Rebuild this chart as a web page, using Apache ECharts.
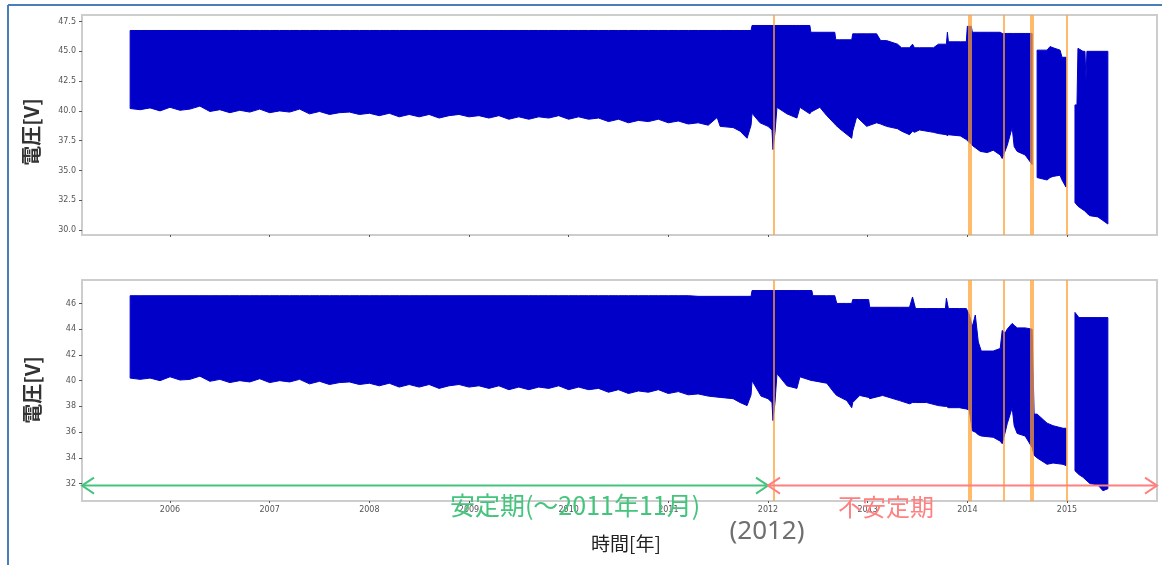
<!DOCTYPE html>
<html><head><meta charset="utf-8">
<script src="https://cdn.jsdelivr.net/npm/echarts@6/dist/echarts.min.js"></script>
<style>html,body{margin:0;padding:0;background:#fff}#c{width:1162px;height:565px}</style>
</head><body><div id="c"></div>
<script>
// ---------- DATA ----------
const yearTicks = [2006, 2007, 2008, 2009, 2010, 2011, 2012, 2013, 2014, 2015];
const topYTicks = [30, 32.5, 35, 37.5, 40, 42.5, 45, 47.5];
const botYTicks = [32, 34, 36, 38, 40, 42, 44, 46];
const eventYears = [2012.06, 2014.02, 2014.37, 2014.655, 2015.0];
const splitYear = 2012.0;

const topYears = [
  2005.6,2005.7,2005.8,2005.9,2006.0,2006.1,2006.2,2006.3,2006.4,2006.5,2006.6,2006.7,2006.8,2006.9,
  2007.0,2007.1,2007.2,2007.3,2007.4,2007.5,2007.6,2007.7,2007.8,2007.9,2008.0,2008.1,2008.2,2008.3,
  2008.4,2008.5,2008.6,2008.7,2008.8,2008.9,2009.0,2009.1,2009.2,2009.3,2009.4,2009.5,2009.6,2009.7,
  2009.8,2009.9,2010.0,2010.1,2010.2,2010.3,2010.4,2010.5,2010.6,2010.7,2010.8,2010.9,2011.0,2011.1,2011.2,
  2011.3,2011.4,2011.49,2011.52,2011.65,2011.72,2011.79,2011.83,2011.84,2011.92,2012.0,2012.04,2012.05,
  2012.07,2012.09,2012.19,2012.29,2012.32,2012.42,2012.43,2012.52,2012.59,2012.67,2012.68,2012.72,2012.84,
  2012.85,2012.89,2012.99,2013.09,2013.13,2013.19,2013.3,2013.34,2013.42,2013.45,2013.47,2013.52,2013.66,
  2013.71,2013.79,2013.8,2013.81,2013.93,2013.99,2014.0,2014.04,2014.05,2014.13,2014.2,2014.26,2014.33,
  2014.35,2014.4,2014.45,2014.47,2014.5,2014.58,2014.65,2014.67,2014.7,2014.8,2014.83,2014.86,2014.93,
  2014.95,2014.99,2015.03,2015.08,2015.1,2015.11,2015.16,2015.18,2015.19,2015.2,2015.23,2015.31,2015.36,2015.41
];
const topUpper = [
  46.75,46.75,46.75,46.75,46.75,46.75,46.75,46.75,46.75,46.75,46.75,46.75,46.75,46.75,
  46.75,46.75,46.75,46.75,46.75,46.75,46.75,46.75,46.75,46.75,46.75,46.75,46.75,46.75,
  46.75,46.75,46.75,46.75,46.75,46.75,46.75,46.75,46.75,46.75,46.75,46.75,46.75,46.75,
  46.75,46.75,46.75,46.75,46.75,46.75,46.75,46.75,46.75,46.75,46.75,46.75,46.75,46.75,46.75,
  46.75,46.75,46.75,46.75,46.75,46.75,46.75,46.75,47.17,47.17,47.17,47.17,47.17,
  47.17,47.17,47.17,47.17,47.17,47.17,46.6,46.6,46.6,46.6,45.97,45.97,45.97,
  46.47,46.47,46.47,46.47,45.9,45.9,45.6,45.3,45.3,45.6,45.3,45.3,45.3,
  45.6,45.6,46.6,45.8,45.8,45.8,47.1,47.1,46.6,46.6,46.6,46.6,46.6,
  46.5,46.5,46.5,46.5,46.5,46.5,46.5,null,45.1,45.1,45.4,45.3,45.1,
  44.5,44.5,null,40.5,40.5,45.25,45.0,45.0,42.6,45.0,45.0,45.0,45.0,45.0
];
const topLower = [
  40.2,40.1,40.25,40.0,40.3,40.05,40.15,40.4,39.95,40.1,39.85,40.05,39.9,40.15,
  39.85,40.0,39.9,40.15,39.75,39.95,39.7,39.85,39.9,39.7,39.8,39.6,39.8,39.5,
  39.7,39.5,39.7,39.4,39.6,39.7,39.5,39.6,39.4,39.6,39.3,39.5,39.3,39.5,
  39.4,39.6,39.3,39.5,39.3,39.4,39.1,39.3,39.0,39.2,39.1,39.3,39.0,39.15,38.9,
  39.0,38.8,39.45,38.7,38.6,38.3,37.7,38.8,39.8,39.0,38.7,38.4,36.75,
  38.2,40.3,39.75,39.4,40.3,39.75,39.9,40.3,39.6,38.9,38.8,38.5,37.7,
  38.3,39.5,38.7,39.0,38.9,38.7,38.5,38.3,38.0,38.3,38.2,38.4,38.2,
  38.1,38.0,37.9,38.0,37.9,37.6,37.5,37.2,37.1,36.6,36.5,36.7,36.3,
  36.0,37.1,38.6,37.0,36.6,36.3,35.5,null,34.4,34.2,34.4,34.5,34.6,
  34.2,33.6,null,32.3,32.1,32.0,31.7,31.6,31.5,31.4,31.2,31.1,30.8,30.5
];

const botYears = [
  2005.6,2005.7,2005.8,2005.9,2006.0,2006.1,2006.2,2006.3,2006.4,2006.5,2006.6,2006.7,2006.8,2006.9,
  2007.0,2007.1,2007.2,2007.3,2007.4,2007.5,2007.6,2007.7,2007.8,2007.9,2008.0,2008.1,2008.2,2008.3,
  2008.4,2008.5,2008.6,2008.7,2008.8,2008.9,2009.0,2009.1,2009.2,2009.3,2009.4,2009.5,2009.6,2009.7,
  2009.8,2009.9,2010.0,2010.1,2010.2,2010.3,2010.4,2010.5,2010.6,2010.7,2010.8,2010.9,2011.0,2011.1,2011.2,
  2011.3,2011.4,2011.52,2011.65,2011.72,2011.79,2011.83,2011.84,2011.93,2012.0,2012.04,2012.05,2012.07,
  2012.09,2012.19,2012.29,2012.32,2012.44,2012.45,2012.59,2012.67,2012.69,2012.79,2012.84,2012.85,2012.92,
  2013.01,2013.02,2013.15,2013.32,2013.42,2013.45,2013.48,2013.59,2013.71,2013.78,2013.79,2013.81,2013.92,
  2013.99,2014.02,2014.05,2014.08,2014.11,2014.14,2014.26,2014.33,2014.35,2014.38,2014.4,2014.45,2014.47,
  2014.5,2014.58,2014.65,2014.67,2014.7,2014.8,2014.86,2014.96,2014.99,2015.03,2015.08,2015.12,2015.16,
  2015.23,2015.31,2015.36,2015.41
];
const botUpper = [
  46.6,46.6,46.6,46.6,46.6,46.6,46.6,46.6,46.6,46.6,46.6,46.6,46.6,46.6,
  46.6,46.6,46.6,46.6,46.6,46.6,46.6,46.6,46.6,46.6,46.6,46.6,46.6,46.6,
  46.6,46.6,46.6,46.6,46.6,46.6,46.6,46.6,46.6,46.6,46.6,46.6,46.6,46.6,
  46.6,46.6,46.6,46.6,46.6,46.6,46.6,46.6,46.6,46.6,46.6,46.6,46.6,46.6,46.6,
  46.55,46.55,46.55,46.55,46.55,46.55,46.55,47.0,47.0,47.0,47.0,47.0,47.0,
  47.0,47.0,47.0,47.0,47.0,46.6,46.6,46.6,46.0,46.0,46.0,46.3,46.3,
  46.3,45.7,45.7,45.7,45.7,46.5,45.6,45.6,45.6,45.6,46.4,45.6,45.6,
  45.6,45.1,44.2,45.1,43.0,42.3,42.3,42.5,43.9,43.7,44.0,44.45,44.3,
  44.1,44.1,44.0,37.4,37.4,36.7,36.5,36.3,36.3,null,45.3,44.9,44.9,
  44.9,44.9,44.9,44.9
];
const botLower = [
  40.2,40.1,40.2,40.0,40.3,40.05,40.1,40.35,39.95,40.1,39.85,40.0,39.9,40.15,
  39.85,40.0,39.9,40.1,39.75,39.95,39.7,39.85,39.9,39.7,39.8,39.6,39.8,39.5,
  39.7,39.5,39.7,39.4,39.6,39.7,39.5,39.6,39.4,39.6,39.3,39.5,39.3,39.5,
  39.4,39.6,39.3,39.5,39.3,39.4,39.1,39.3,39.0,39.2,39.1,39.3,39.0,39.15,38.9,
  38.97,38.8,38.7,38.6,38.3,38.06,38.9,40.0,38.8,38.6,38.3,36.9,38.3,
  40.55,39.6,39.4,40.3,40.0,40.0,39.8,39.0,38.85,38.45,37.9,38.3,38.85,
  38.7,38.6,38.85,38.45,38.2,38.3,38.3,38.3,38.06,38.0,38.0,37.9,37.9,
  37.8,37.7,36.1,36.0,35.8,35.7,35.6,35.3,35.1,36.0,36.65,37.9,36.5,
  35.9,35.7,34.8,34.2,34.0,33.5,33.6,33.5,33.4,null,33.0,32.7,32.5,
  32.0,31.9,31.45,31.6
];

// ---------- CHART ----------
const BLUE = '#0000c8';
const ORANGE = 'rgba(255,160,50,0.72)';
const eventWidth = [2, 4, 2, 4, 2];

// Band (daily min..max envelope) drawn as polygons through the axis scales
function bandSeries(g, years, upper, lower) {
  const rows = years.map((x, i) => [x, lower[i], upper[i]]);
  return {
    type: 'custom', xAxisIndex: g, yAxisIndex: g, silent: true, z: 2,
    encode: { x: 0, y: [1, 2] },
    data: rows,
    renderItem: function (params, api) {
      if (params.dataIndex !== 0) return null;
      const children = [];
      let up = [], lo = [];
      const flush = () => {
        if (up.length > 1) {
          children.push({ type: 'polygon', shape: { points: up.concat(lo.slice().reverse()) },
            style: { fill: BLUE, stroke: BLUE, lineWidth: 1 } });
        }
        up = []; lo = [];
      };
      for (let i = 0; i < rows.length; i++) {
        const r = rows[i];
        if (r[1] == null || r[2] == null) { flush(); continue; }
        up.push(api.coord([r[0], r[2]]));
        lo.push(api.coord([r[0], r[1]]));
      }
      flush();
      return { type: 'group', children: children };
    },
    markLine: { symbol: ['none', 'none'], silent: true, z: 5, label: { show: false },
      lineStyle: { color: ORANGE, type: 'solid', width: 2 },
      data: eventYears.map((v, i) => ({ xAxis: v, lineStyle: { width: eventWidth[i], color: ORANGE, type: 'solid' } })) }
  };
}

function xAxisCfg(g, showLabels) {
  return { type: 'value', gridIndex: g, min: 2005.117, max: 2015.903,
    splitLine: { show: false }, axisLine: { show: false },
    axisTick: { show: true, customValues: yearTicks, length: 2, lineStyle: { color: '#555', width: 1 } },
    axisLabel: { show: showLabels, customValues: yearTicks, fontSize: 8, color: '#555', margin: 5,
      fontFamily: 'DejaVu Sans', formatter: v => String(Math.round(v)) } };
}
function yAxisCfg(g, min, max, ticks, dec) {
  return { type: 'value', gridIndex: g, min: min, max: max,
    splitLine: { show: false }, axisLine: { show: false },
    axisTick: { show: true, customValues: ticks, length: 3, lineStyle: { color: '#555' } },
    axisLabel: { customValues: ticks, fontSize: 8, color: '#555', margin: 6, fontFamily: 'DejaVu Sans',
      formatter: v => v.toFixed(dec) } };
}

const chart = echarts.init(document.getElementById('c'), null, { renderer: 'canvas' });
chart.setOption({
  animation: false,
  backgroundColor: '#fff',
  grid: [
    { left: 82, right: 5, top: 15, height: 220, show: true, borderColor: '#cdcdcd', borderWidth: 2, backgroundColor: '#fff' },
    { left: 82, right: 5, top: 280, height: 221, show: true, borderColor: '#cdcdcd', borderWidth: 2, backgroundColor: '#fff' }
  ],
  xAxis: [xAxisCfg(0, false), xAxisCfg(1, true)],
  yAxis: [yAxisCfg(0, 29.58, 48.05, topYTicks, 1), yAxisCfg(1, 30.65, 47.82, botYTicks, 0)],
  series: [bandSeries(0, topYears, topUpper, topLower), bandSeries(1, botYears, botUpper, botLower)]
});

// annotations anchored to data coordinates
const arrowVal = 31.85;
const pL = chart.convertToPixel({ xAxisIndex: 1, yAxisIndex: 1 }, [2005.117, arrowVal]);
const pM = chart.convertToPixel({ xAxisIndex: 1, yAxisIndex: 1 }, [splitYear, arrowVal]);
const pR = chart.convertToPixel({ xAxisIndex: 1, yAxisIndex: 1 }, [2015.903, arrowVal]);
const GREEN = '#44c47c', RED = '#ff8080';
const ah = 12, av = 8;
function head(tipX, y, dir, color) {
  return { type: 'polyline', z: 100, silent: true,
    shape: { points: [[tipX + dir * ah, y - av], [tipX, y], [tipX + dir * ah, y + av]] },
    style: { stroke: color, lineWidth: 2, fill: null } };
}
function txt(text, x, y, font, fill, rot) {
  return { type: 'text', z: 101, silent: true, x: x, y: y, rotation: rot || 0,
    style: { text: text, font: font, fill: fill, textAlign: 'center', textVerticalAlign: 'middle', align: 'center', verticalAlign: 'middle' } };
}
const y0 = pL[1];
chart.setOption({
  graphic: [
    { type: 'line', z: 100, silent: true, shape: { x1: 8, y1: 5, x2: 1162, y2: 5 }, style: { stroke: '#4a7ebb', lineWidth: 2 } },
    { type: 'line', z: 100, silent: true, shape: { x1: 8, y1: 5, x2: 8, y2: 565 }, style: { stroke: '#4a7ebb', lineWidth: 2 } },
    { type: 'line', z: 100, silent: true, shape: { x1: pL[0], y1: y0, x2: pM[0], y2: y0 }, style: { stroke: GREEN, lineWidth: 2 } },
    { type: 'line', z: 100, silent: true, shape: { x1: pM[0], y1: y0, x2: pR[0], y2: y0 }, style: { stroke: RED, lineWidth: 2 } },
    head(pL[0], y0, 1, GREEN), head(pM[0], y0, -1, GREEN),
    head(pM[0], y0, 1, RED), head(pR[0], y0, -1, RED),
    txt('安定期(～2011年11月)', 575, 505, '25px "Noto Sans CJK JP"', GREEN),
    txt('不安定期', 886, 507, '24px "Noto Sans CJK JP"', RED),
    txt('(2012)', 767, 532, '26px "Noto Sans"', '#6f6f6f'),
    txt('時間[年]', 626, 544, '19px "Noto Sans CJK JP"', '#222'),
    txt('電圧[V]', 31, 132, 'bold 20px "Noto Sans CJK JP"', '#333', Math.PI / 2),
    txt('電圧[V]', 32, 390, 'bold 20px "Noto Sans CJK JP"', '#333', Math.PI / 2)
  ]
});
</script>
</body></html>
